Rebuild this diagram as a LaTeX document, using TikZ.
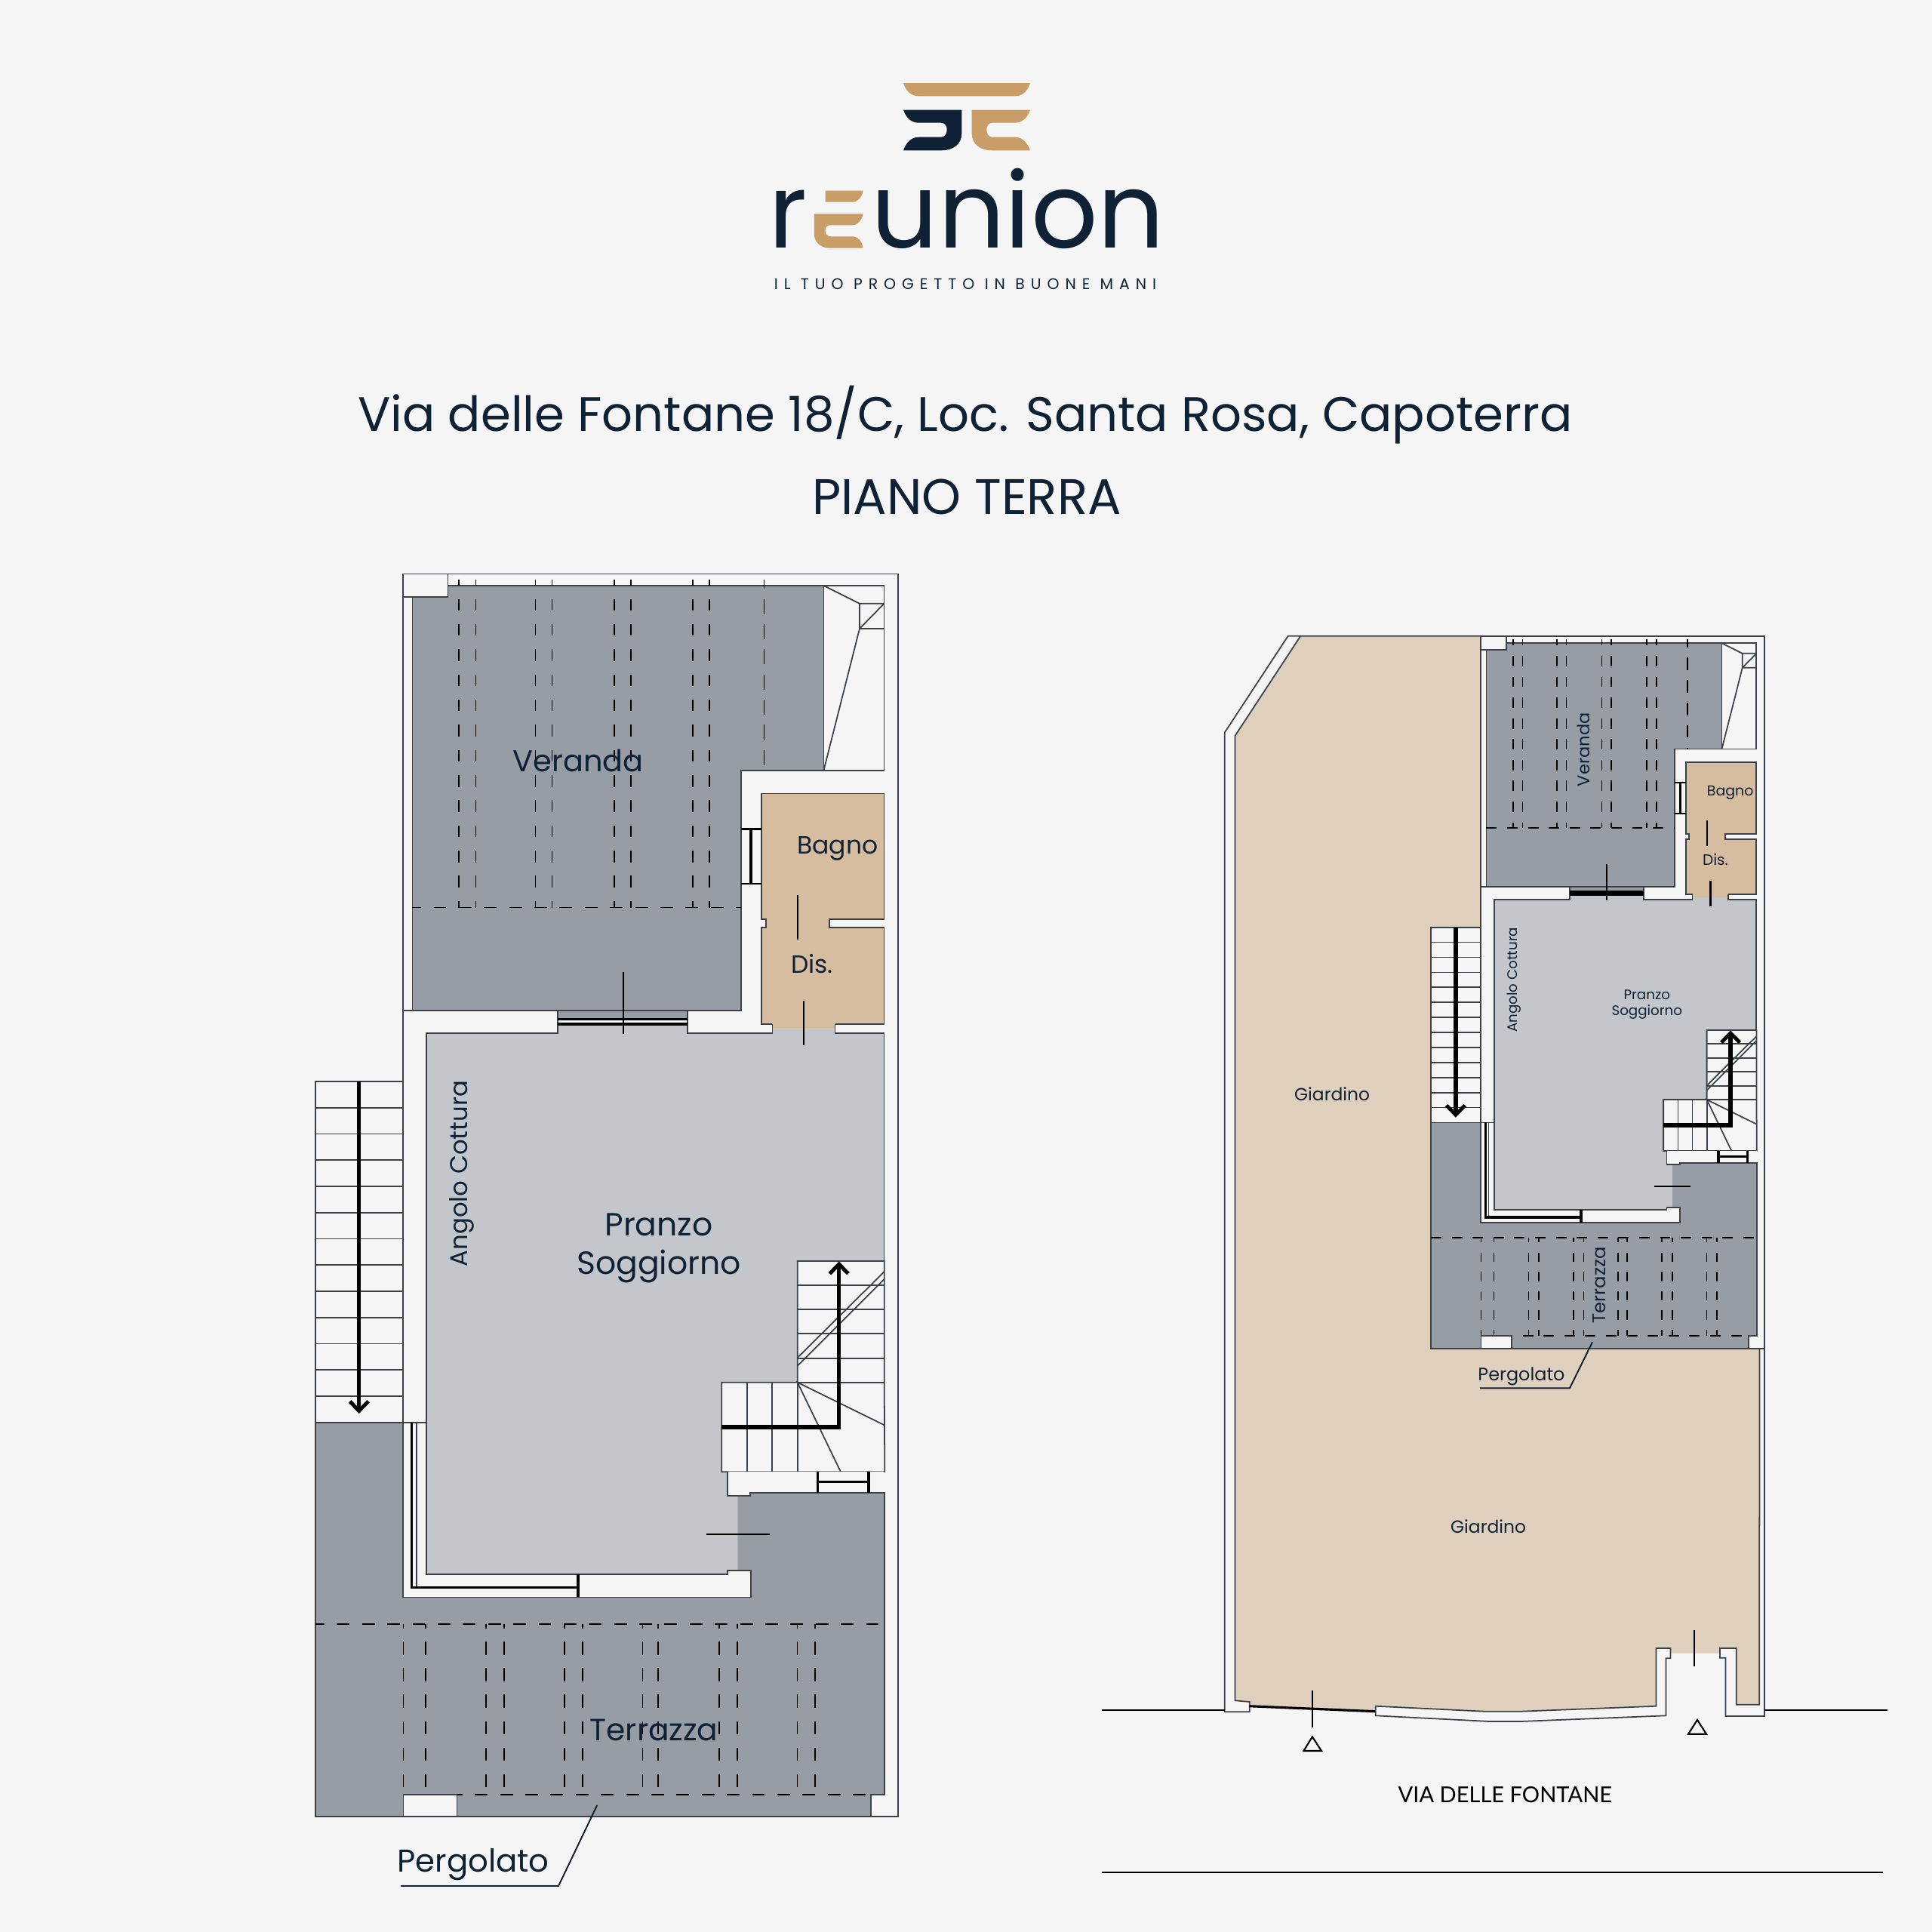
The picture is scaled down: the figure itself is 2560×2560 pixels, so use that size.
\documentclass[tikz,border=0pt]{standalone}
\usepackage{fontspec}
\setmainfont{Poppins}
\newfontfamily\viafont{Lato}
\usetikzlibrary{arrows.meta}
\definecolor{bgc}{HTML}{F5F5F5}
\definecolor{navy}{HTML}{0F2135}
\definecolor{gold}{HTML}{C89D67}
\definecolor{linec}{HTML}{3C4148}
\definecolor{vergrey}{HTML}{979DA5}
\definecolor{pranzoc}{HTML}{C3C7CC}
\definecolor{bagnoc}{HTML}{D6BDA0}
\definecolor{gardenc}{HTML}{DFCFBD}
\tikzset{
  wl/.style={draw=linec,line width=.5pt,line join=miter},
  thk/.style={draw=black,line width=.95pt},
  doorl/.style={draw=black,line width=.6pt},
  lbl/.style={text=navy,inner sep=0pt,align=center},
  fs/.style={font=\fontsize{#1pt}{14.5pt}\selectfont},
  fss/.style={font=\fontsize{#1pt}{6.1pt}\selectfont},
  flowarrow/.style={draw=black,line width=1.5pt,line join=miter,-{Straight Barb[length=3.6pt,width=7pt,line width=1.4pt]}},
}
\newcommand\houseplan{%
  % footprint
  \fill[bgc] (534,760.5)--(1190,760.5)--(1190,2407)--(418.3,2407)--(418.3,1433)--(534,1433)--cycle;
  % fills
  \fill[pranzoc] (564.7,1369)--(739,1369)--(739,1358)--(911,1358)--(911,1369)--(1023.4,1369)--(1023.4,1363.7)--(1106.6,1363.7)--(1106.6,1369)--(1171.5,1369)--(1171.5,1978)--(977.4,1978)--(977.4,2086)--(564.7,2086)--cycle;
  \fill[vergrey] (418.3,1884.6)--(534,1884.6)--(534,2116.4)--(994.7,2116.4)--(994.7,2081)--(977.4,2081)--(977.4,1978)--(1172,1978)--(1172,2377.6)--(1154,2377.6)--(1154,2407)--(418.3,2407)--cycle;
  \fill[vergrey] (739,1339) rectangle (911,1351);
  \fill[bagnoc] (1008.8,1051.6)--(1171.5,1051.6)--(1171.5,1217.7)--(1098.7,1217.7)--(1098.7,1229.3)--(1171.5,1229.3)--(1171.5,1357)--(1106.6,1357)--(1106.6,1363.7)--(1023.4,1363.7)--(1023.4,1357)--(1008.8,1357)--(1008.8,1229.3)--(1015,1229.3)--(1015,1217.7)--(1008.8,1217.7)--cycle;
  % veranda
  \path[wl,fill=vergrey] (546.4,776)--(1091.4,776)--(1091.4,1021)--(982,1021)--(982,1339)--(546.4,1339)--cycle;
  % veranda dashes
  \foreach \vx in {608,630.6,709.6,731.6,813.7,836.2,918.3,940.3}{\draw[vd] (\vx,767.7)--(\vx,1202.5);}
  \draw[lvd] (1012.4,767.7)--(1012.4,1021);
  \draw[hd] (546.4,1202.5)--(982,1202.5);
  % corner box
  \path[wl,fill=bgc] (534,760.5) rectangle (593.5,791);
  % outer shell
  \path[wl] (534,1884.6)--(534,760.5)--(1190,760.5)--(1190,2407)--(418.3,2407)--(418.3,1433)--(534,1433);
  \path[wl] (534,1339)--(739,1339)--(739,1369)--(564.7,1369)--(564.7,1884.6)--(534,1884.6);
  \path[wl] (911,1339)--(911,1369)--(1023.4,1369)--(1023.4,1357);
  \path[wl] (1106.6,1357)--(1106.6,1369)--(1171.5,1369)--(1171.5,1671);
  % roof corner stair
  \path[wl] (1091.4,776)--(1171.5,776)--(1171.5,1021)--(1091.4,1021);
  \path[wl] (1091.4,776)--(1139,799.8)--(1171.5,799.8) (1139,799.8)--(1139,832.9)--(1171.5,832.9) (1171.5,799.8)--(1139,832.9)--(1091.4,1021);
  % bagno outline
  \path[wl] (1023.4,1357)--(1008.8,1357)--(1008.8,1229.3)--(1015,1229.3)--(1015,1217.7)--(1008.8,1217.7)--(1008.8,1051.6)--(1171.5,1051.6)--(1171.5,1217.7)--(1098.7,1217.7)--(1098.7,1229.3)--(1171.5,1229.3)--(1171.5,1357)--(1106.6,1357);
  % windows
  \draw[thk] (739,1350.7)--(911,1350.7) (739,1357)--(911,1357);
  \draw[doorl] (982,1098.5)--(1008.8,1098.5) (982,1170.8)--(1008.8,1170.8);
  \draw[thk] (995,1098.5)--(995,1170.8);
  % door lines
  \draw[doorl] (825.7,1287.8)--(825.7,1370.4);
  \draw[doorl] (1057,1186.4)--(1057,1245.4);
  \draw[doorl] (1065.3,1325.7)--(1065.3,1385);
  \draw[doorl] (935.6,2032.6)--(1019.8,2032.6);
  % outdoor stairs
  \path[wl,fill=bgc] (418.3,1433) rectangle (534,1884.6);
  \foreach \st in {1,...,12}{\path[wl] (418.3,1433+34.74*\st)--(534,1433+34.74*\st);}
  \draw[flowarrow] (475.8,1433)--(475.8,1873);
  % indoor stairs
  \path[wl,fill=bgc] (1056.7,1671)--(1171.7,1671)--(1171.7,1831.7)--(1172.3,1950.3)--(956.3,1950.3)--(956.3,1831.7)--(1056.7,1831.7)--cycle;
  \foreach \ty in {1703,1735.3,1767.3,1799.7,1831.7}{\path[wl] (1056.7,\ty)--(1171.7,\ty);}
  \foreach \tx in {990,1023.3,1056.7}{\path[wl] (\tx,1831.7)--(\tx,1950.3);}
  \path[wl] (1171.7,1888.3)--(1056.7,1831.7)--(1114,1950.3);
  \path[wl] (1056.7,1799)--(1171.7,1685) (1056.7,1810)--(1171.7,1695);
  \draw[flowarrow,line cap=butt] (956.3,1891)--(1111.7,1891)--(1111.7,1671.5);
  % sill under stairs
  \fill[bgc] (964,1950.3) rectangle (1172,1978);
  \fill[bgc] (964,1977) rectangle (994,1981.7);
  \path[wl] (964,1950.3)--(964,1981.7)--(994,1981.7)--(994,1978)--(1172,1978)--(1172,2377.6)--(1154,2377.6)--(1154,2407);
  \draw[thk] (1083.3,1950.3)--(1083.3,1978) (1151,1950.3)--(1151,1978) (1083.3,1963.3)--(1151,1963.3);
  % L shaped wall
  \path[wl,fill=bgc] (534,1884.6)--(564.7,1884.6)--(564.7,2086)--(963.8,2086)--(963.8,2081)--(994.7,2081)--(994.7,2116.4)--(534,2116.4)--cycle;
  \path[wl] (552,1884.6)--(552,2103.5);
  \draw[thk] (545.4,1884.6)--(545.4,2103.5)--(766,2103.5);
  \draw[thk] (766,2086)--(766,2116.4);
  \path[wl] (418.3,1884.6)--(534,1884.6);
  % terrace dashes
  \foreach \tx in {534.4,564.2,644.2,668.3,747.8,771.9,851.4,872.3,952.8,976.9,1056.4,1079.9}{\draw[tvd] (\tx,2151.6)--(\tx,2377.6);}
  \draw[hd] (418.3,2151.6)--(1172,2151.6);
  \draw[hd] (534.4,2377.6)--(1154,2377.6);
  \path[wl,fill=bgc] (534.4,2377.6) rectangle (605.5,2407);
}
\begin{document}
\begin{tikzpicture}[x=0.1mm,y=-0.1mm]
\useasboundingbox (0,0) rectangle (2560,2560);
\fill[bgc] (0,0) rectangle (2560,2560);
% ---- logo
\fill[gold] (1197,110)--(1365,110) .. controls (1362,120) and (1355,127.3) .. (1346,127.3)--(1217,127.3) .. controls (1207,127.3) and (1200,120) .. cycle;
\fill[navy] (1197.1,145.7)--(1274.3,145.7)--(1274.3,177) .. controls (1274.3,191) and (1263,199.3) .. (1247.8,199.3)--(1197.1,199.3) .. controls (1200,190) and (1207,181.7) .. (1217.1,181.7)--(1247,181.7) .. controls (1252,181.7) and (1254.7,177) .. (1254.7,171.7) .. controls (1254.7,167) and (1252,162.7) .. (1247,162.7)--(1217.1,162.7) .. controls (1207,162.7) and (1200,155) .. cycle;
\fill[gold] (1364.9,145.7)--(1287.7,145.7)--(1287.7,177) .. controls (1287.7,191) and (1299,199.3) .. (1314.2,199.3)--(1364.9,199.3) .. controls (1362,190) and (1355,181.7) .. (1344.9,181.7)--(1315,181.7) .. controls (1310,181.7) and (1307.3,177) .. (1307.3,171.7) .. controls (1307.3,167) and (1310,162.7) .. (1315,162.7)--(1344.9,162.7) .. controls (1355,162.7) and (1362,155) .. cycle;
\node[lbl,anchor=base west,font=\fontsize{39pt}{40pt}\selectfont] (logor) at (1018,328.7) {r};
\node[lbl,anchor=base east,font=\fontsize{39.4pt}{40pt}\selectfont] (logounion) at (1544,328.7) {union};
\fill[gold] (1093.5,252.7)--(1143.7,252.7) .. controls (1142,261) and (1137,267.7) .. (1129.4,267.7)--(1093.5,267.7)--cycle;
\fill[gold] (1078.8,283.3)--(1143.7,283.3) .. controls (1142,291) and (1137,298.3) .. (1129.4,298.3)--(1100.8,298.3) .. controls (1096,298.3) and (1093.5,301) .. (1093.5,305.5) .. controls (1093.5,310) and (1096,313.3) .. (1100.8,313.3)--(1129.4,313.3) .. controls (1137,313.3) and (1142,320) .. (1143.7,328.7)--(1098.8,328.7) .. controls (1087,328.7) and (1078.8,320) .. (1078.8,310)--cycle;
\node[lbl,font=\fontsize{5.8pt}{6pt}\selectfont\addfontfeature{LetterSpace=39}] (tagline) at (1279,376) {IL TUO PROGETTO IN BUONE MANI};
% ---- title
\node[lbl,fs=18.25] (title) at (1279,550) {Via delle Fontane 18/C, Loc. Santa Rosa, Capoterra};
\node[lbl,fs=18.8] (subtitle) at (1281,658) {PIANO TERRA};
% ---- left plan
\tikzset{
  vd/.style={draw=black,line width=.5pt,dash pattern=on 4.42pt off 5.07pt,dash phase=2.15pt},
  lvd/.style={draw=black,line width=.5pt,dash pattern=on 5.7pt off 3.8pt,dash phase=2.15pt},
  tvd/.style={draw=black,line width=.5pt,dash pattern=on 5pt off 5pt,dash phase=3.3pt},
  hd/.style={draw=black,line width=.55pt,dash pattern=on 4.8pt off 4.7pt,dash phase=1.5pt},
}
\houseplan
\node[lbl,fs=11.35] (verandaL) at (766,1008) {Veranda};
\node[lbl,fs=9.4] (bagnoL) at (1110,1124) {Bagno};
\node[lbl,fs=9.4] (disL) at (1076,1276.6) {Dis.};
\node[lbl,fs=12.1] (pranzoL) at (873,1654) {Pranzo\\Soggiorno};
\node[lbl,fs=9.2,rotate=90] (angoloL) at (612,1555) {Angolo Cottura};
\node[lbl,fs=11.6] (terrazzaL) at (866.5,2292.5) {Terrazza};
\node[lbl,fs=11.9] (pergolatoL) at (627,2470.5) {Pergolato};
\coordinate (pla) at (791.2,2392);
\coordinate (plb) at (740,2499);
\coordinate (plc) at (530.8,2499);
\draw[navy,line width=.55pt] (pla)--(plb)--(plc);
% ---- garden
\fill[gardenc] (1723.3,842.7)--(1962.3,842.7)--(1962.3,1400)--(2331.5,1786.7)--(2331.2,2258.7)--(2300.7,2258.7)--(2300.7,2184)--(2279,2184)--(2279,2190.7)--(2213.5,2190.7)--(2213.5,2184)--(2194.6,2184)--(2194.6,2260.7)--(2014.7,2267.7)--(1967.4,2267.7)--(1822.7,2260.7)--(1822.7,2267.7)--(1655.7,2260.7)--(1655.7,2255)--(1636.5,2253.3)--(1636.5,975)--cycle;
\fill[gardenc] (1636.5,1000) rectangle (2000,2200);
\path[wl] (1962.3,842.7)--(1706.7,842.7)--(1622.7,970.7)--(1622.7,2268.3)--(1655.7,2268.3)--(1655.7,2255)--(1636.5,2253.3)--(1636.5,975)--(1723.3,842.7);
\draw[draw=black,line width=.9pt] (1655.7,2260.7)--(1822.7,2267.7);
\path[wl,fill=bgc] (1822.7,2260.7)--(1967.4,2267.7)--(2014.7,2267.7)--(2194.6,2260.7)--(2194.6,2184)--(2213.5,2184)--(2213.5,2197.3)--(2207.4,2197.3)--(2207.4,2273.3)--(2014.7,2281)--(1974,2281)--(1822.7,2273.3)--cycle;
\path[wl,fill=bgc] (2331.5,1786.7)--(2331.2,2258.7)--(2300.7,2258.7)--(2300.7,2184)--(2279,2184)--(2279,2196.7)--(2286.5,2196.7)--(2286.5,2274)--(2338,2274)--(2338,1786.7)--cycle;
\draw[draw=black,line width=.5pt] (2338,2266)--(2501,2266);
\draw[draw=black,line width=.5pt] (1460,2266)--(1622.6,2266);
\draw[draw=black,line width=.5pt] (1460,2481.3)--(2494.8,2481.3);
\draw[doorl] (2245.3,2160)--(2245.3,2208.3);
\draw[doorl] (1738.9,2240)--(1738.9,2289);
\draw[draw=black,line width=.6pt] (1738.9,2301.3)--(1751,2320)--(1727.4,2320)--cycle;
\draw[draw=black,line width=.6pt] (2249,2279)--(2261,2297.7)--(2237,2297.7)--cycle;
\node[lbl,fss=6.65] (giardinoA) at (1765,1450) {Giardino};
\node[lbl,fss=6.65] (giardinoB) at (1972,2023) {Giardino};
\node[text=black,inner sep=0pt,font=\viafont\fontsize{8.27pt}{9pt}\selectfont] (via) at (1994.4,2378) {VIA DELLE FONTANE};
% ---- right plan
\tikzset{
  vd/.style={draw=black,line width=.5pt,dash pattern=on 3.97pt off 3.88pt,dash phase=1.73pt},
  lvd/.style={draw=black,line width=.5pt,dash pattern=on 4.7pt off 3.8pt,dash phase=1.73pt},
  tvd/.style={draw=black,line width=.5pt,dash pattern=on 3.54pt off 3.74pt,dash phase=1.84pt},
  hd/.style={draw=black,line width=.55pt,dash pattern=on 3.97pt off 3.88pt},
}
\begin{scope}[shift={(1896,843.3)},xscale=0.5727,yscale=0.573,shift={(-418.3,-760.5)}]
\houseplan
\end{scope}
\node[lbl,fss=6.4,rotate=90] (verandaR) at (2098.3,993.3) {Veranda};
\node[lbl,fss=5.4] (bagnoR) at (2292.7,1050.5) {Bagno};
\node[lbl,fss=5.7] (disR) at (2273,1139) {Dis.};
\node[lbl,fss=5.2] (pranzoR) at (2182.3,1331) {Pranzo\\Soggiorno};
\node[lbl,fss=5.2,rotate=90] (angoloR) at (2006,1298.3) {Angolo Cottura};
\node[lbl,fss=6.9,rotate=90] (terrazzaR) at (2119.3,1702.7) {Terrazza};
\node[lbl,fss=6.8] (pergolatoR) at (2016,1824) {Pergolato};
\coordinate (pra) at (2110,1778.3);
\coordinate (prb) at (2080,1839.3);
\coordinate (prc) at (1961,1839.3);
\draw[navy,line width=.55pt] (pra)--(prb)--(prc);
\end{tikzpicture}
\end{document}
